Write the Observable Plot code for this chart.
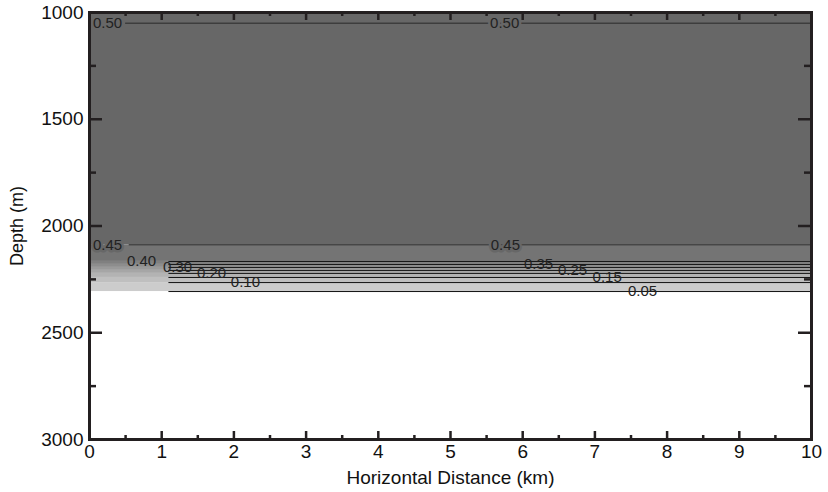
<!DOCTYPE html>
<html>
<head>
<meta charset="utf-8">
<script src="https://cdn.jsdelivr.net/npm/d3@7"></script>
<script src="https://cdn.jsdelivr.net/npm/@observablehq/plot@0.6"></script>
<style>
  html, body { margin: 0; padding: 0; background: #fff; }
  #chart { width: 828px; height: 492px; }
</style>
</head>
<body>
<div id="chart"></div>
<script>
// ---- data ----
const levels     = [0.50, 0.45, 0.40, 0.35, 0.30, 0.25, 0.20, 0.15, 0.10, 0.05];
const depths     = [1050, 2088, 2166, 2180, 2194, 2208, 2222, 2241, 2265, 2307];
const lineStart  = [0.50, 0.55, 1.10, 1.10, 1.10, 1.10, 1.10, 1.10, 1.10, 1.10];
const labelLevel = [0.50, 0.50, 0.45, 0.45, 0.40, 0.30, 0.20, 0.10, 0.35, 0.25, 0.15, 0.05];
const labelX     = [0.25, 5.75, 0.25, 5.76, 0.72, 1.22, 1.69, 2.16, 6.22, 6.69, 7.17, 7.66];
const xTicks      = [0, 1, 2, 3, 4, 5, 6, 7, 8, 9, 10];
const xMinorTicks = [0.5, 1.5, 2.5, 3.5, 4.5, 5.5, 6.5, 7.5, 8.5, 9.5];
const yTicks      = [1000, 1500, 2000, 2500, 3000];
const yMinorTicks = [1250, 1750, 2250, 2750];
const xDomain = [0, 10];
const yDomain = [1000, 3000];

// ---- derived tables ----
const contours = levels.map((v, i) => ({level: v, depth: depths[i], start: lineStart[i]}));
const bands = levels.slice(0, -1).map((v, i) => ({
  value: v,
  top: i === 0 ? yDomain[0] : depths[i],
  bottom: depths[i + 1]
}));
const labels = labelLevel.map((v, i) => ({
  level: v,
  text: v.toFixed(2),
  x: labelX[i],
  depth: depths[levels.indexOf(v)]
}));

const W = 828, H = 492;
const mL = 89, mR = 17, mT = 12, mB = 53;
const innerW = W - mL - mR, innerH = H - mT - mB;
const ink = "#231f20";

const chart = Plot.plot({
  width: W,
  height: H,
  marginLeft: mL,
  marginRight: mR,
  marginTop: mT,
  marginBottom: mB,
  style: {fontFamily: "'Liberation Sans', Arial, Helvetica, sans-serif", background: "#fff"},
  x: {domain: xDomain},
  y: {domain: yDomain, reverse: true},
  color: {type: "linear", domain: [0.10, 0.50], range: ["#cccccc", "#676767"]},
  marks: [
    Plot.rect(bands, {x1: xDomain[0], x2: xDomain[1], y1: "top", y2: "bottom", fill: "value"}),
    Plot.ruleY(contours.filter(d => d.level >= 0.45), {y: "depth", x1: "start", x2: xDomain[1], stroke: "#2a2a2a", strokeWidth: 1}),
    Plot.ruleY(contours.filter(d => d.level < 0.45), {y: "depth", x1: "start", x2: xDomain[1], stroke: "#111", strokeWidth: 1}),
    Plot.text(labels.filter(d => d.level >= 0.45), {x: "x", y: "depth", text: "text", fill: "#222", stroke: "#676767", strokeWidth: 5, fontSize: 15}),
    Plot.text(labels.filter(d => d.level < 0.45), {x: "x", y: "depth", text: "text", fill: "#222", fontSize: 15}),
    // inward ticks: left / right
    Plot.ruleY(yTicks, {y: d => d, insetRight: innerW - 13, stroke: ink, strokeWidth: 2.5}),
    Plot.ruleY(yMinorTicks, {y: d => d, insetRight: innerW - 7, stroke: ink, strokeWidth: 2.5}),
    Plot.ruleY(yTicks, {y: d => d, insetLeft: innerW - 13, stroke: ink, strokeWidth: 2.5}),
    Plot.ruleY(yMinorTicks, {y: d => d, insetLeft: innerW - 7, stroke: ink, strokeWidth: 2.5}),
    // inward ticks: bottom / top
    Plot.ruleX(xTicks, {x: d => d, insetTop: innerH - 8, stroke: ink, strokeWidth: 2.5}),
    Plot.ruleX(xMinorTicks, {x: d => d, insetTop: innerH - 4, stroke: ink, strokeWidth: 2.5}),
    Plot.ruleX(xTicks, {x: d => d, insetBottom: innerH - 8, stroke: ink, strokeWidth: 2.5}),
    Plot.ruleX(xMinorTicks, {x: d => d, insetBottom: innerH - 4, stroke: ink, strokeWidth: 2.5}),
    Plot.frame({stroke: ink, strokeWidth: 3}),
    Plot.axisY({ticks: yTicks, tickSize: 0, tickPadding: 6, tickFormat: d => String(d), fontSize: 19, fill: "#111",
      label: null}),
    Plot.axisX({ticks: xTicks, tickSize: 0, tickPadding: 5, tickFormat: d => String(d), fontSize: 19, fill: "#111",
      label: null}),
    Plot.text(["Depth (m)"], {frameAnchor: "left", dx: -72, rotate: -90, fontSize: 18, fill: "#111", textAnchor: "middle"}),
    Plot.text(["Horizontal Distance (km)"], {frameAnchor: "bottom", dy: 44, fontSize: 19, fill: "#111", textAnchor: "middle"})
  ]
});
document.getElementById("chart").appendChild(chart);
</script>
</body>
</html>
